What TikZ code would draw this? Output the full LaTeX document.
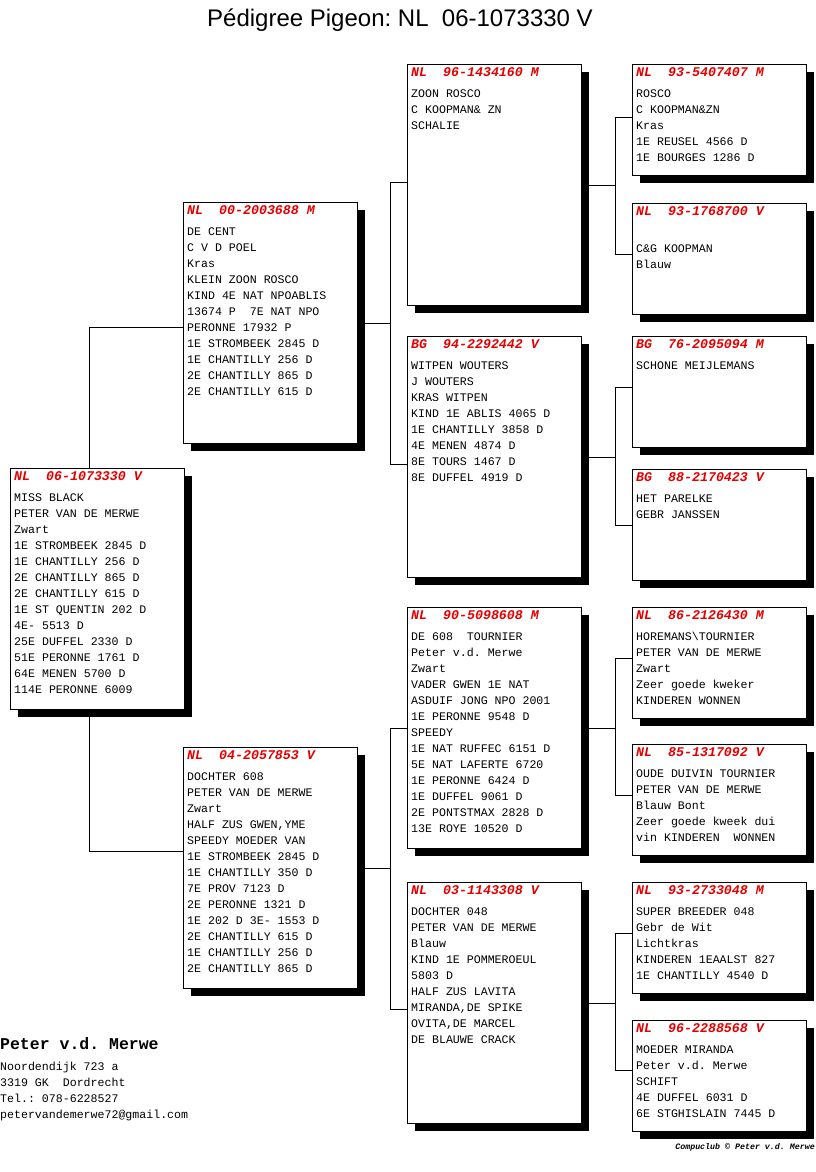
\documentclass[tikz,border=0pt]{standalone}
\usepackage{fontspec}
\setmainfont{Liberation Sans}
\newfontfamily\pedmono{Liberation Mono}
\usetikzlibrary{shadows,backgrounds}
\frenchspacing

\definecolor{pedred}{RGB}{228,0,0}

\tikzset{
  pbox/.style={draw, fill=white, line width=0.8pt, anchor=north west,
    inner sep=0pt, minimum width=174pt, minimum height=241pt,
    drop shadow={shadow xshift=8pt, shadow yshift=-8pt, fill=black, opacity=1}},
  smallbox/.style={pbox, minimum height=111pt},
  ringno/.style={anchor=base west, inner sep=0pt, text=pedred,
    font=\pedmono\fontsize{13.3}{16}\selectfont\bfseries\itshape},
  pline/.style={anchor=base west, inner sep=0pt, text=black,
    font=\pedmono\fontsize{11.6}{14}\selectfont},
  link/.style={line width=0.8pt}
}

\begin{document}
\begin{tikzpicture}[x=1pt, y=-1pt]
  \useasboundingbox (0,0) rectangle (816,1172);

  % titel
  \node (title) [anchor=base, font=\fontsize{24}{28}\selectfont]
    at (400,27) {Pédigree Pigeon: NL\ \ 06-1073330 V};

  % -- duif
  \node[pbox] (root) at (10,468) {};
  \node[ringno] (root-h) at ([shift={(4,12)}]root.north west) {NL\ \ 06-1073330 V};
  \foreach \t [count=\i] in {MISS BLACK, PETER VAN DE MERWE, Zwart,
      1E STROMBEEK 2845 D, 1E CHANTILLY 256 D, 2E CHANTILLY 865 D,
      2E CHANTILLY 615 D, 1E ST QUENTIN 202 D, 4E- 5513 D, 25E DUFFEL 2330 D,
      51E PERONNE 1761 D, 64E MENEN 5700 D, 114E PERONNE 6009}
    \node[pline] (root-\i) at ([shift={(4,17+16*\i)}]root.north west) {\t};

  % -- vader
  \node[pbox] (sire) at (183,202) {};
  \node[ringno] (sire-h) at ([shift={(4,12)}]sire.north west) {NL\ \ 00-2003688 M};
  \foreach \t [count=\i] in {DE CENT, C V D POEL, Kras, KLEIN ZOON ROSCO,
      KIND 4E NAT NPOABLIS, 13674 P~~7E NAT NPO, PERONNE 17932 P,
      1E STROMBEEK 2845 D, 1E CHANTILLY 256 D, 2E CHANTILLY 865 D,
      2E CHANTILLY 615 D}
    \node[pline] (sire-\i) at ([shift={(4,17+16*\i)}]sire.north west) {\t};

  % -- moeder
  \node[pbox] (dam) at (183,747) {};
  \node[ringno] (dam-h) at ([shift={(4,12)}]dam.north west) {NL\ \ 04-2057853 V};
  \foreach \t [count=\i] in {DOCHTER 608, PETER VAN DE MERWE, Zwart,
      {HALF ZUS GWEN,YME}, SPEEDY MOEDER VAN, 1E STROMBEEK 2845 D,
      1E CHANTILLY 350 D, 7E PROV 7123 D, 2E PERONNE 1321 D,
      1E 202 D 3E- 1553 D, 2E CHANTILLY 615 D, 1E CHANTILLY 256 D,
      2E CHANTILLY 865 D}
    \node[pline] (dam-\i) at ([shift={(4,17+16*\i)}]dam.north west) {\t};

  % -- grootouders
  \node[pbox] (ss) at (407,64) {};
  \node[ringno] (ss-h) at ([shift={(4,12)}]ss.north west) {NL\ \ 96-1434160 M};
  \foreach \t [count=\i] in {ZOON ROSCO, C KOOPMAN\& ZN, SCHALIE}
    \node[pline] (ss-\i) at ([shift={(4,17+16*\i)}]ss.north west) {\t};

  \node[pbox] (sd) at (407,336) {};
  \node[ringno] (sd-h) at ([shift={(4,12)}]sd.north west) {BG\ \ 94-2292442 V};
  \foreach \t [count=\i] in {WITPEN WOUTERS, J WOUTERS, KRAS WITPEN,
      KIND 1E ABLIS 4065 D, 1E CHANTILLY 3858 D, 4E MENEN 4874 D,
      8E TOURS 1467 D, 8E DUFFEL 4919 D}
    \node[pline] (sd-\i) at ([shift={(4,17+16*\i)}]sd.north west) {\t};

  \node[pbox] (ds) at (407,607) {};
  \node[ringno] (ds-h) at ([shift={(4,12)}]ds.north west) {NL\ \ 90-5098608 M};
  \foreach \t [count=\i] in {DE 608~~TOURNIER, Peter v.d. Merwe, Zwart,
      VADER GWEN 1E NAT, ASDUIF JONG NPO 2001, 1E PERONNE 9548 D, SPEEDY,
      1E NAT RUFFEC 6151 D, 5E NAT LAFERTE 6720, 1E PERONNE 6424 D,
      1E DUFFEL 9061 D, 2E PONTSTMAX 2828 D, 13E ROYE 10520 D}
    \node[pline] (ds-\i) at ([shift={(4,17+16*\i)}]ds.north west) {\t};

  \node[pbox] (dd) at (407,882) {};
  \node[ringno] (dd-h) at ([shift={(4,12)}]dd.north west) {NL\ \ 03-1143308 V};
  \foreach \t [count=\i] in {DOCHTER 048, PETER VAN DE MERWE, Blauw,
      KIND 1E POMMEROEUL, 5803 D, HALF ZUS LAVITA, {MIRANDA,DE SPIKE},
      {OVITA,DE MARCEL}, DE BLAUWE CRACK}
    \node[pline] (dd-\i) at ([shift={(4,17+16*\i)}]dd.north west) {\t};

  % -- overgrootouders
  \node[smallbox] (sss) at (632,64) {};
  \node[ringno] (sss-h) at ([shift={(4,12)}]sss.north west) {NL\ \ 93-5407407 M};
  \foreach \t [count=\i] in {ROSCO, C KOOPMAN\&ZN, Kras,
      1E REUSEL 4566 D, 1E BOURGES 1286 D}
    \node[pline] (sss-\i) at ([shift={(4,17+16*\i)}]sss.north west) {\t};

  \node[smallbox] (ssd) at (632,203) {};
  \node[ringno] (ssd-h) at ([shift={(4,12)}]ssd.north west) {NL\ \ 93-1768700 V};
  \foreach \t [count=\i] in {{}, C\&G KOOPMAN, Blauw}
    \node[pline] (ssd-\i) at ([shift={(4,17+16*\i)}]ssd.north west) {\t};

  \node[smallbox] (sds) at (632,336) {};
  \node[ringno] (sds-h) at ([shift={(4,12)}]sds.north west) {BG\ \ 76-2095094 M};
  \node[pline] (sds-1) at ([shift={(4,33)}]sds.north west) {SCHONE MEIJLEMANS};

  \node[smallbox] (sdd) at (632,469) {};
  \node[ringno] (sdd-h) at ([shift={(4,12)}]sdd.north west) {BG\ \ 88-2170423 V};
  \foreach \t [count=\i] in {HET PARELKE, GEBR JANSSEN}
    \node[pline] (sdd-\i) at ([shift={(4,17+16*\i)}]sdd.north west) {\t};

  \node[smallbox] (dss) at (632,607) {};
  \node[ringno] (dss-h) at ([shift={(4,12)}]dss.north west) {NL\ \ 86-2126430 M};
  \foreach \t [count=\i] in {HOREMANS\textbackslash TOURNIER,
      PETER VAN DE MERWE, Zwart, Zeer goede kweker, KINDEREN WONNEN}
    \node[pline] (dss-\i) at ([shift={(4,17+16*\i)}]dss.north west) {\t};

  \node[smallbox] (dsd) at (632,744) {};
  \node[ringno] (dsd-h) at ([shift={(4,12)}]dsd.north west) {NL\ \ 85-1317092 V};
  \foreach \t [count=\i] in {OUDE DUIVIN TOURNIER, PETER VAN DE MERWE,
      Blauw Bont, Zeer goede kweek dui, vin KINDEREN~~WONNEN}
    \node[pline] (dsd-\i) at ([shift={(4,17+16*\i)}]dsd.north west) {\t};

  \node[smallbox] (dds) at (632,882) {};
  \node[ringno] (dds-h) at ([shift={(4,12)}]dds.north west) {NL\ \ 93-2733048 M};
  \foreach \t [count=\i] in {SUPER BREEDER 048, Gebr de Wit, Lichtkras,
      KINDEREN 1EAALST 827, 1E CHANTILLY 4540 D}
    \node[pline] (dds-\i) at ([shift={(4,17+16*\i)}]dds.north west) {\t};

  \node[smallbox] (ddd) at (632,1020) {};
  \node[ringno] (ddd-h) at ([shift={(4,12)}]ddd.north west) {NL\ \ 96-2288568 V};
  \foreach \t [count=\i] in {MOEDER MIRANDA, Peter v.d. Merwe, SCHIFT,
      4E DUFFEL 6031 D, 6E STGHISLAIN 7445 D}
    \node[pline] (ddd-\i) at ([shift={(4,17+16*\i)}]ddd.north west) {\t};

  % adres
  \node[pline, font=\pedmono\fontsize{16.5}{18}\selectfont\bfseries]
    (owner) at (0,1049) {Peter v.d. Merwe};
  \foreach \t [count=\i] in {Noordendijk 723 a, 3319 GK~~Dordrecht,
      Tel.: 078-6228527, petervandemerwe72@gmail.com}
    \node[pline] (addr-\i) at (0,1054+16*\i) {\t};
  \node (credit) [anchor=base east, inner sep=0pt,
    font=\pedmono\fontsize{8.3}{9}\selectfont\bfseries\itshape]
    at (815,1149) {Compuclub © Peter v.d. Merwe};

  % lijnen
  \begin{scope}[on background layer]
    \fill[white] (0,0) rectangle (816,1172);
    \draw[link] ([xshift=79pt]root.north west) |- ([yshift=-4.5pt]sire.west);
    \draw[link] ([xshift=79pt]root.south west) |- ([yshift=16.5pt]dam.west);

    \draw[link] (sire.east) -- ++(33,0) coordinate (sire-j);
    \draw[link] ([yshift=2.5pt]ss.west) -| (sire-j) |- ([yshift=-7.5pt]sd.west);
    \draw[link] (dam.east) -- ++(33,0) coordinate (dam-j);
    \draw[link] (ds.west) -| (dam-j) |- ([yshift=-6.5pt]dd.west);

    \draw[link] (ss.east) -- ++(34,0) coordinate (ss-j);
    \draw[link] ([yshift=2.5pt]sss.west) -| (ss-j) |- ([yshift=4.5pt]ssd.west);
    \draw[link] (sd.east) -- ++(34,0) coordinate (sd-j);
    \draw[link] ([yshift=4.5pt]sds.west) -| (sd-j) |- (sdd.west);
    \draw[link] (ds.east) -- ++(34,0) coordinate (ds-j);
    \draw[link] ([yshift=4.5pt]dss.west) -| (ds-j) |- ([yshift=4.5pt]dsd.west);
    \draw[link] (dd.east) -- ++(34,0) coordinate (dd-j);
    \draw[link] ([yshift=4.5pt]dds.west) -| (dd-j) |- ([yshift=5.5pt]ddd.west);
  \end{scope}
\end{tikzpicture}
\end{document}
